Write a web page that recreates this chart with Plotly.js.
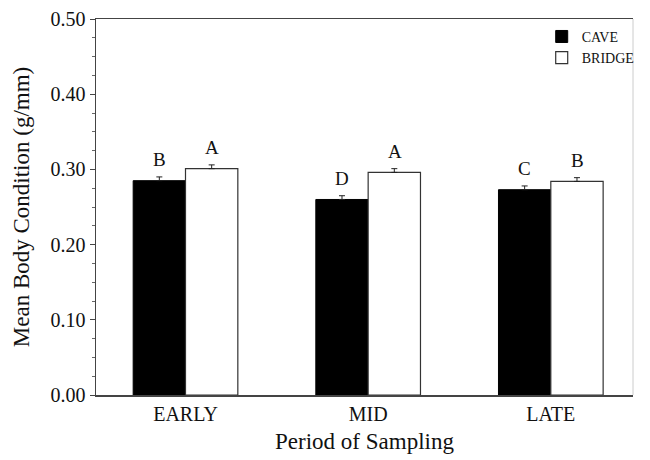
<!DOCTYPE html>
<html>
<head>
<meta charset="utf-8">
<script src="https://cdn.plot.ly/plotly-3.0.1.min.js"></script>
<style>html,body{margin:0;padding:0;background:#fff;}#chart{width:650px;height:460px;}</style>
</head>
<body>
<div id="chart"></div>
<script>
var periods = ["EARLY", "MID", "LATE"];
var caveMeans = [0.285, 0.260, 0.273];
var caveErr = [0.005, 0.005, 0.005];
var bridgeMeans = [0.301, 0.296, 0.284];
var bridgeErr = [0.005, 0.005, 0.005];
var caveLetters = ["B", "D", "C"];
var bridgeLetters = ["A", "A", "B"];
var yTickVals = [0, 0.1, 0.2, 0.3, 0.4, 0.5];
var yTickText = ["0.00", "0.10", "0.20", "0.30", "0.40", "0.50"];

var serif = "Liberation Serif";

var cave = {
  type: "bar", name: "CAVE", x: periods, y: caveMeans,
  marker: {color: "#000", line: {color: "#000", width: 1}},
  error_y: {type: "data", array: caveErr, symmetric: false, arrayminus: [0,0,0], color: "#222", thickness: 1, width: 3}
};
var bridge = {
  type: "bar", name: "BRIDGE", x: periods, y: bridgeMeans,
  marker: {color: "#fff", line: {color: "#333", width: 1.2}},
  error_y: {type: "data", array: bridgeErr, symmetric: false, arrayminus: [0,0,0], color: "#222", thickness: 1, width: 3}
};

var annotations = [];
for (var i = 0; i < periods.length; i++) {
  annotations.push({x: periods[i], y: caveMeans[i] + caveErr[i], xref: "x", yref: "y",
    text: caveLetters[i], showarrow: false, yanchor: "bottom", xshift: -26.5, yshift: 5,
    font: {family: serif, size: 19, color: "#111"}});
  annotations.push({x: periods[i], y: bridgeMeans[i] + bridgeErr[i], xref: "x", yref: "y",
    text: bridgeLetters[i], showarrow: false, yanchor: "bottom", xshift: 26.5, yshift: 5,
    font: {family: serif, size: 19, color: "#111"}});
}

var layout = {
  width: 650, height: 460,
  margin: {l: 96, r: 10, t: 19, b: 65},
  paper_bgcolor: "#fff", plot_bgcolor: "#fff",
  font: {family: serif, color: "#111"},
  barmode: "group", bargap: 0.427, bargroupgap: 0,
  showlegend: true,
  legend: {x: 0.83, y: 0.995, xanchor: "left", yanchor: "top", bgcolor: "rgba(0,0,0,0)",
    font: {family: serif, size: 14, color: "#111"}, itemwidth: 30, tracegroupgap: 0},
  xaxis: {
    type: "category", range: [-0.49, 2.45],
    showline: true, linecolor: "#444", linewidth: 1.5, mirror: true,
    ticks: "", showgrid: false, zeroline: false,
    tickfont: {family: serif, size: 20, color: "#111"},
    title: {text: "Period of Sampling", font: {family: serif, size: 23, color: "#111"}, standoff: 9}
  },
  yaxis: {
    range: [0, 0.5], tickvals: yTickVals, ticktext: yTickText,
    showline: true, linecolor: "#444", linewidth: 1.5,
    ticks: "outside", ticklen: 5, tickcolor: "#444", tickwidth: 1,
    minor: {dtick: 0.025, ticks: "outside", ticklen: 3, tickcolor: "#666", showgrid: false},
    showgrid: false, zeroline: false,
    tickfont: {family: serif, size: 20, color: "#111"},
    title: {text: "Mean Body Condition (g/mm)", font: {family: serif, size: 23, color: "#111"}, standoff: 14}
  },
  shapes: [{type: "line", xref: "paper", yref: "paper", x0: 1, x1: 1, y0: 0, y1: 1,
    line: {color: "#ccc", width: 1}}],
  annotations: annotations
};

Plotly.newPlot("chart", [cave, bridge], layout, {displayModeBar: false, staticPlot: true});
</script>
</body>
</html>
